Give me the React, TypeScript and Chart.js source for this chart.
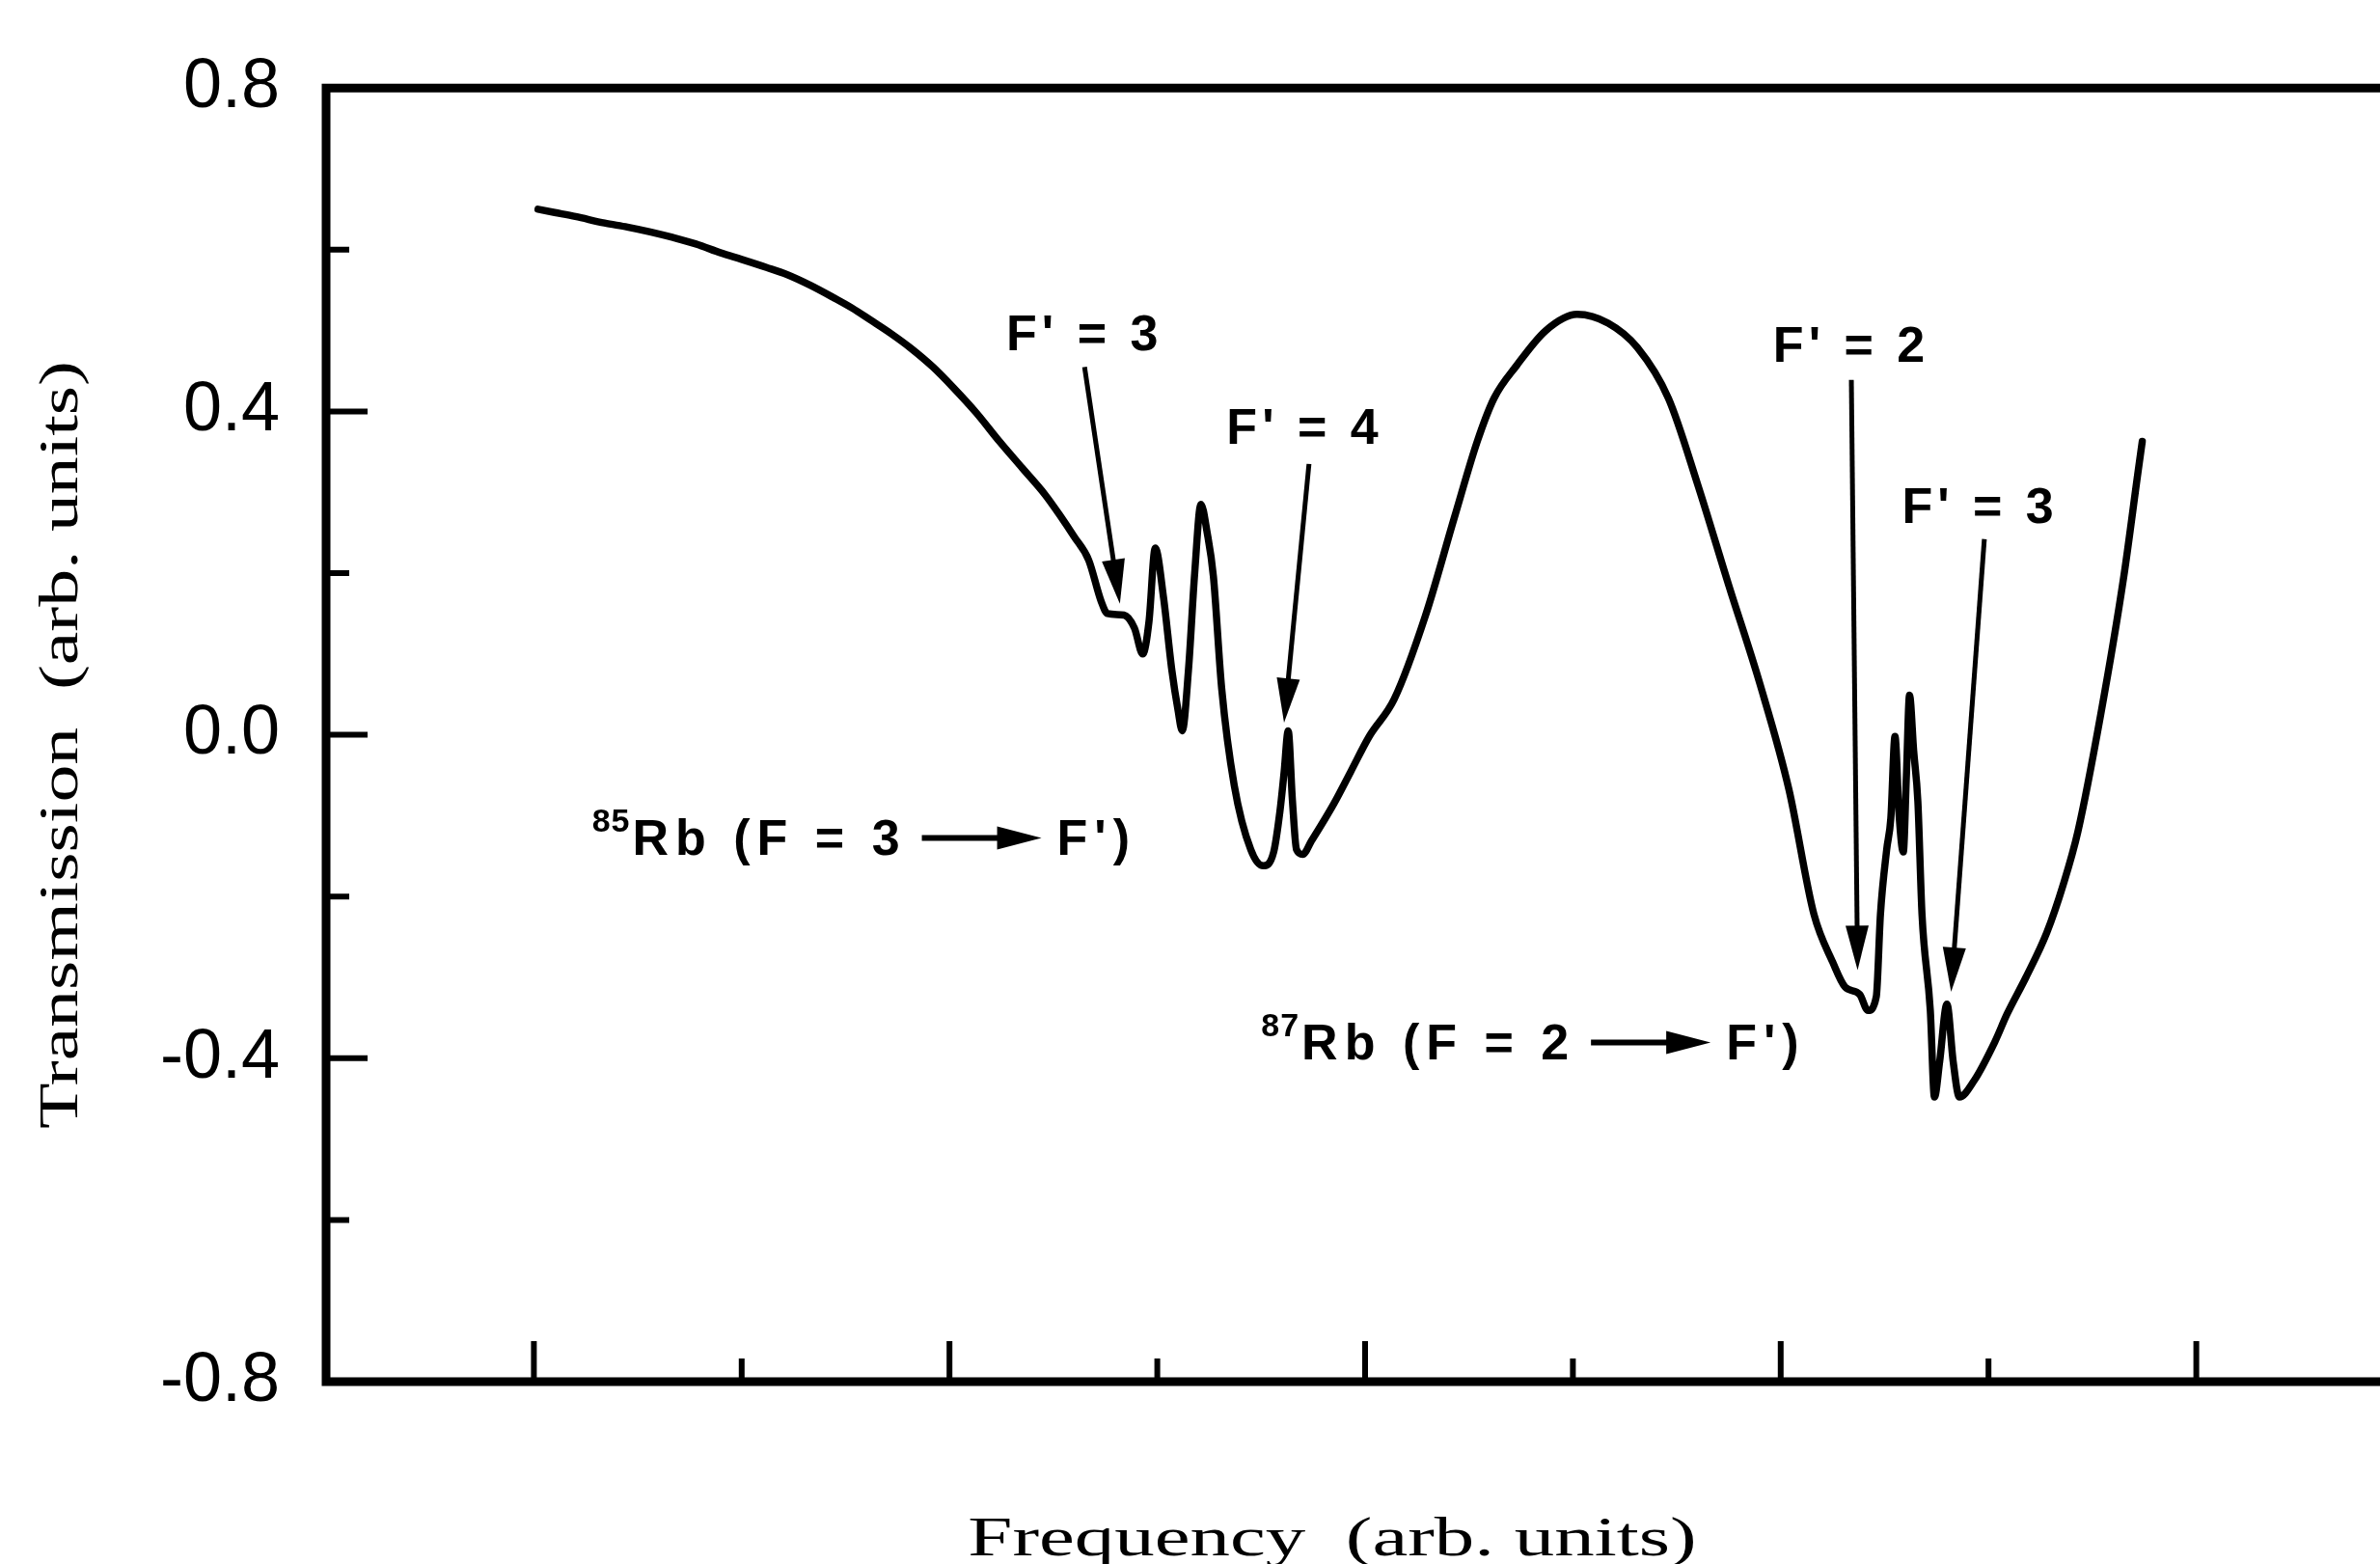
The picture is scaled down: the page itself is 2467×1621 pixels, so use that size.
import React, { useEffect, useRef } from "react";
import { Chart, registerables } from "chart.js";

Chart.register(...registerables);

// ---- data ----
const frequency: number[] = [
  1.02, 1.1, 1.2, 1.34, 1.45, 1.56, 1.67, 1.78, 1.9, 2.0, 2.12, 2.22, 2.33, 2.44, 2.53, 2.62, 2.72, 2.81,
  2.92, 3.02, 3.13, 3.24, 3.35, 3.46, 3.53, 3.6, 3.67, 3.73, 3.76, 3.84, 3.89, 3.93, 3.96, 3.99, 4.03,
  4.07, 4.1, 4.12, 4.15, 4.18, 4.21, 4.24, 4.27, 4.31, 4.37, 4.45, 4.51, 4.56, 4.59, 4.61, 4.63, 4.65,
  4.67, 4.7, 4.74, 4.85, 4.93, 5.02, 5.14, 5.29, 5.43, 5.54, 5.62, 5.73, 5.87, 6.02, 6.17, 6.31, 6.46,
  6.6, 6.75, 6.9, 7.04, 7.16, 7.25, 7.31, 7.38, 7.42, 7.46, 7.48, 7.51, 7.53, 7.55, 7.57, 7.59, 7.605,
  7.62, 7.64, 7.66, 7.68, 7.72, 7.74, 7.765, 7.8, 7.83, 7.86, 7.93, 8.03, 8.09, 8.18, 8.28, 8.36, 8.43,
  8.54, 8.65, 8.72, 8.74,
];
const transmission: number[] = [
  0.65, 0.646, 0.641, 0.633, 0.628, 0.622, 0.615, 0.607, 0.596, 0.588, 0.578, 0.569, 0.556, 0.541, 0.528,
  0.513, 0.496, 0.479, 0.455, 0.429, 0.398, 0.363, 0.33, 0.297, 0.272, 0.245, 0.216, 0.165, 0.15, 0.148,
  0.132, 0.1, 0.14, 0.231, 0.17, 0.08, 0.03, 0.005, 0.08, 0.2, 0.285, 0.25, 0.196, 0.057, -0.062, -0.142,
  -0.162, -0.145, -0.095, -0.047, 0.005, -0.08, -0.142, -0.148, -0.132, -0.085, -0.046, -0.002, 0.044,
  0.147, 0.269, 0.363, 0.416, 0.457, 0.5, 0.52, 0.509, 0.479, 0.416, 0.31, 0.185, 0.063, -0.068, -0.222,
  -0.281, -0.312, -0.321, -0.341, -0.324, -0.222, -0.142, -0.103, -0.002, -0.1, -0.145, -0.05, 0.049,
  -0.02, -0.082, -0.222, -0.341, -0.448, -0.404, -0.333, -0.404, -0.448, -0.428, -0.38, -0.345, -0.3,
  -0.245, -0.185, -0.12, 0.025, 0.194, 0.326, 0.363,
];

const yTickValues: number[] = [-0.8, -0.6, -0.4, -0.2, 0, 0.2, 0.4, 0.6, 0.8];
const yMajorTicks: number[] = [-0.8, -0.4, 0, 0.4, 0.8];
const yTickLabels: string[] = ["-0.8", "-0.4", "0.0", "0.4", "0.8"];
const xTickValues: number[] = [1, 2, 3, 4, 5, 6, 7, 8, 9];
const xMajorTicks: number[] = [1, 3, 5, 7, 9];

const xTitle = "Frequency  (arb. units)";
const yTitle = "Transmission  (arb. units)";

// level annotations (data coordinates)
const levelLabels: string[] = ["F' = 3", "F' = 4", "F' = 2", "F' = 3"];
const levelLabelX: number[] = [3.65, 4.71, 7.34, 7.96];
const levelLabelY: number[] = [0.476, 0.36, 0.461, 0.262];
const arrowStartX: number[] = [3.65, 4.73, 7.34, 7.98];
const arrowStartY: number[] = [0.455, 0.335, 0.439, 0.242];
const arrowEndX: number[] = [3.82, 4.61, 7.37, 7.82];
const arrowEndY: number[] = [0.162, 0.015, -0.291, -0.318];

// isotope annotations
const isotopeMass: string[] = ["85", "87"];
const isotopeText: string[] = ["Rb (F = 3", "Rb (F = 2"];
const isotopeTail: string[] = ["F')", "F')"];
const isotopeX: number[] = [1.28, 4.5];
const isotopeY: number[] = [-0.149, -0.402];

const W = 2467;
const H = 1621;
const SANS = '"Liberation Sans", Arial, Helvetica, sans-serif';
const SERIF = '"Liberation Serif", "Times New Roman", serif';

function setSpacing(ctx: CanvasRenderingContext2D, px: number) {
  const c = ctx as any;
  if ("letterSpacing" in c) c.letterSpacing = px + "px";
}

function drawArrowHead(ctx: CanvasRenderingContext2D, x0: number, y0: number, x1: number, y1: number, len: number, half: number) {
  const ang = Math.atan2(y1 - y0, x1 - x0);
  const bx = x1 - Math.cos(ang) * len;
  const by = y1 - Math.sin(ang) * len;
  const nx = -Math.sin(ang);
  const ny = Math.cos(ang);
  ctx.beginPath();
  ctx.moveTo(x1, y1);
  ctx.lineTo(bx + nx * half, by + ny * half);
  ctx.lineTo(bx - nx * half, by - ny * half);
  ctx.closePath();
  ctx.fill();
}

const decorPlugin = {
  id: "decor",
  afterDraw(chart: any) {
    const ctx: CanvasRenderingContext2D = chart.ctx;
    const xs = chart.scales.x;
    const ys = chart.scales.y;
    const area = chart.chartArea;
    ctx.save();
    ctx.strokeStyle = "#000";
    ctx.fillStyle = "#000";
    ctx.lineCap = "butt";

    // frame: left, bottom, top
    ctx.lineWidth = 9;
    ctx.beginPath();
    ctx.moveTo(area.left, area.top - 4.5);
    ctx.lineTo(area.left, area.bottom + 4.5);
    ctx.moveTo(area.left - 4.5, area.bottom);
    ctx.lineTo(W, area.bottom);
    ctx.moveTo(area.left - 4.5, area.top);
    ctx.lineTo(W, area.top);
    ctx.stroke();

    // inward ticks
    ctx.lineWidth = 6;
    ctx.beginPath();
    yTickValues.forEach((v) => {
      if (v === ys.min || v === ys.max) return;
      const py = ys.getPixelForValue(v);
      const len = yMajorTicks.includes(v) ? 43 : 24;
      ctx.moveTo(area.left, py);
      ctx.lineTo(area.left + len, py);
    });
    xTickValues.forEach((v) => {
      const px = xs.getPixelForValue(v);
      const len = xMajorTicks.includes(v) ? 42 : 24;
      ctx.moveTo(px, area.bottom);
      ctx.lineTo(px, area.bottom - len);
    });
    ctx.stroke();

    // axis titles (stretched serif)
    ctx.textAlign = "center";
    ctx.textBaseline = "alphabetic";
    ctx.font = `58px ${SERIF}`;
    ctx.save();
    ctx.translate(1381, 1612);
    ctx.scale(1.43, 1);
    ctx.fillText(xTitle, 0, 0);
    ctx.restore();
    ctx.save();
    ctx.translate(80, 772);
    ctx.rotate(-Math.PI / 2);
    ctx.scale(1.34, 1);
    ctx.fillText(yTitle, 0, 0);
    ctx.restore();

    // level labels + arrows
    ctx.textAlign = "left";
    ctx.font = `bold 52px ${SANS}`;
    setSpacing(ctx, 5);
    levelLabels.forEach((t, i) => {
      const w = ctx.measureText(t).width;
      const cx = xs.getPixelForValue(levelLabelX[i]);
      const by = ys.getPixelForValue(levelLabelY[i]);
      ctx.fillText(t, cx - w / 2, by);
      const x0 = xs.getPixelForValue(arrowStartX[i]);
      const y0 = ys.getPixelForValue(arrowStartY[i]);
      const x1 = xs.getPixelForValue(arrowEndX[i]);
      const y1 = ys.getPixelForValue(arrowEndY[i]);
      ctx.lineWidth = 5;
      ctx.beginPath();
      ctx.moveTo(x0, y0);
      const ang = Math.atan2(y1 - y0, x1 - x0);
      ctx.lineTo(x1 - Math.cos(ang) * 30, y1 - Math.sin(ang) * 30);
      ctx.stroke();
      drawArrowHead(ctx, x0, y0, x1, y1, 46, 12);
    });

    // isotope labels
    isotopeMass.forEach((m, i) => {
      let x = xs.getPixelForValue(isotopeX[i]);
      const by = ys.getPixelForValue(isotopeY[i]);
      ctx.font = `bold 34px ${SANS}`;
      setSpacing(ctx, 1);
      ctx.fillText(m, x, by - 24);
      x += ctx.measureText(m).width + 2;
      ctx.font = `bold 52px ${SANS}`;
      setSpacing(ctx, 7);
      ctx.fillText(isotopeText[i], x, by);
      x += ctx.measureText(isotopeText[i]).width + 16;
      // arrow glyph
      const ay = by - 18;
      ctx.lineWidth = 6;
      ctx.beginPath();
      ctx.moveTo(x, ay);
      ctx.lineTo(x + 90, ay);
      ctx.stroke();
      drawArrowHead(ctx, x, ay, x + 124, ay, 46, 12);
      x += 124 + 16;
      ctx.fillText(isotopeTail[i], x, by);
    });
    setSpacing(ctx, 0);
    ctx.restore();
  },
};

export default function App() {
  const canvasRef = useRef<HTMLCanvasElement | null>(null);

  useEffect(() => {
    const canvas = canvasRef.current;
    if (!canvas) return;
    const points = frequency.map((f, i) => ({ x: f, y: transmission[i] }));
    const chart = new Chart(canvas, {
      type: "line",
      data: {
        datasets: [
          {
            data: points,
            borderColor: "#000",
            borderWidth: 7.5,
            pointRadius: 0,
            fill: false,
            cubicInterpolationMode: "monotone",
            borderJoinStyle: "round",
            borderCapStyle: "round",
          } as any,
        ],
      },
      options: {
        animation: false,
        responsive: false,
        maintainAspectRatio: false,
        devicePixelRatio: 1,
        layout: { padding: { top: 90, bottom: 189, left: 0, right: 0 } },
        plugins: { legend: { display: false }, tooltip: { enabled: false } },
        scales: {
          x: {
            type: "linear",
            display: false,
            min: 0,
            max: 9.884,
          },
          y: {
            type: "linear",
            min: -0.8,
            max: 0.8,
            afterBuildTicks: (s: any) => {
              s.ticks = yTickValues.map((v) => ({ value: v }));
            },
            afterFit: (s: any) => {
              s.width = 338;
            },
            grid: { display: false, drawTicks: false },
            border: { display: false },
            ticks: {
              autoSkip: false,
              padding: 48,
              color: "#000",
              font: { family: SANS, size: 72 },
              callback: (v: any) => {
                const idx = yMajorTicks.findIndex((m) => Math.abs(m - Number(v)) < 1e-6);
                return idx >= 0 ? yTickLabels[idx] : "";
              },
            },
          },
        },
      },
      plugins: [decorPlugin],
    });
    return () => chart.destroy();
  }, []);

  return (
    <div style={{ position: "fixed", left: 0, top: 0, width: W, height: H, background: "#fff" }}>
      <canvas ref={canvasRef} width={W} height={H} style={{ width: W, height: H, display: "block" }} />
    </div>
  );
}
